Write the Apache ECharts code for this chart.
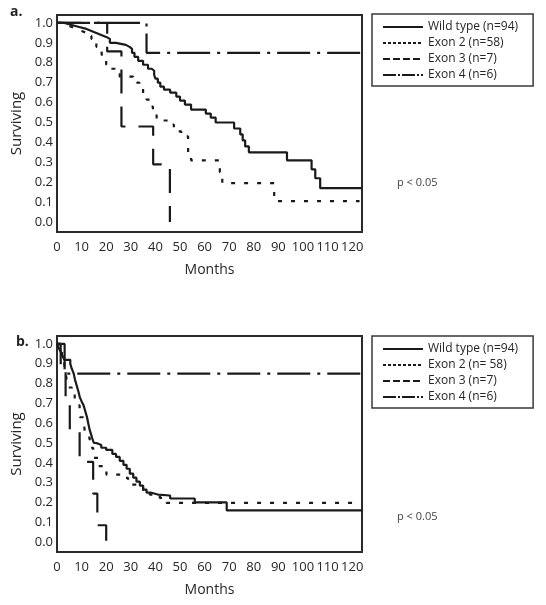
<!DOCTYPE html>
<html><head><meta charset="utf-8">
<script src="https://cdn.jsdelivr.net/npm/echarts@6/dist/echarts.min.js"></script>
<style>html,body{margin:0;padding:0;background:#fff}#c{width:546px;height:605px}</style>
</head><body><div id="c"></div>
<script>
// ---------- data (months, surviving fraction) ----------
const namesA = ['Wild type (n=94)', 'Exon 2 (n=58)', 'Exon 3 (n=7)', 'Exon 4 (n=6)'];
const namesB = ['Wild type (n=94)', 'Exon 2 (n= 58)', 'Exon 3 (n=7)', 'Exon 4 (n=6)'];
const panelLabels = ['a.', 'b.'];
const pText = 'p < 0.05';
const xTicks = [0, 10, 20, 30, 40, 50, 60, 70, 80, 90, 100, 110, 120];
const yTicks = [0.0, 0.1, 0.2, 0.3, 0.4, 0.5, 0.6, 0.7, 0.8, 0.9, 1.0];

const aWild = [[0,1.0],[3,0.99],[6,0.98],[9,0.97],[12,0.96],[14,0.95],[16,0.94],[18,0.93],[20,0.92],[21.5,0.90],[24,0.89],[28,0.88],[29.5,0.87],[30.5,0.85],[31.5,0.83],[33,0.81],[35,0.79],[37,0.77],[38.5,0.76],[39.5,0.74],[40,0.72],[41,0.70],[42,0.68],[43.5,0.665],[46,0.65],[48.5,0.63],[50,0.61],[52,0.59],[54.5,0.565],[60.5,0.545],[62.5,0.525],[64.5,0.50],[72,0.47],[74.5,0.44],[75.5,0.41],[76.5,0.38],[78,0.35],[93.5,0.31],[103.5,0.265],[105,0.22],[107,0.17],[124,0.17]];
const aExon2 = [[0,1.0],[2,0.99],[4,0.98],[6,0.97],[8,0.96],[10,0.95],[12,0.935],[14,0.92],[15,0.90],[16,0.88],[18,0.865],[18.5,0.81],[20,0.79],[22,0.77],[24,0.745],[25.5,0.73],[31,0.715],[32.5,0.70],[33.5,0.67],[35,0.63],[36.4,0.615],[37.7,0.58],[39,0.545],[40.5,0.51],[46,0.49],[47.5,0.47],[49,0.455],[50.5,0.43],[53.3,0.345],[54.5,0.31],[66.2,0.25],[67.2,0.196],[88.3,0.105],[123,0.105]];
const aExon3 = [[0,1.0],[20.4,0.857],[26.2,0.48],[39.1,0.29],[45.9,0.0]];
const aExon4 = [[0,1.0],[36.4,0.85],[124,0.85]];

const bWild = [[0,1.0],[0.7,0.98],[1.5,0.96],[2.2,0.94],[3,0.92],[5.4,0.90],[6,0.875],[6.8,0.85],[7.3,0.82],[8,0.79],[8.7,0.76],[9.3,0.73],[10,0.71],[10.8,0.69],[11.5,0.66],[12.2,0.63],[12.7,0.60],[13.2,0.57],[13.7,0.55],[14.3,0.525],[15,0.50],[16,0.49],[18,0.476],[20,0.465],[22.5,0.445],[24,0.43],[25.5,0.41],[27,0.39],[28.3,0.37],[29.6,0.345],[31,0.325],[32.3,0.305],[33.7,0.285],[35,0.265],[36.4,0.25],[38,0.24],[41,0.235],[46,0.22],[56,0.20],[69,0.16],[124,0.16]];
const bExon2 = [[0,1.0],[1,0.97],[2,0.93],[3,0.89],[3.8,0.83],[4.5,0.78],[6,0.76],[7.2,0.72],[7.9,0.69],[9.2,0.63],[10.6,0.62],[11.3,0.56],[12,0.527],[13.3,0.476],[14.7,0.425],[16.7,0.383],[18.7,0.358],[20.1,0.34],[26.9,0.324],[28.9,0.29],[35,0.257],[37.7,0.24],[41.8,0.223],[44.5,0.198],[123,0.198]];
const bExon3 = [[0,1.0],[1.5,0.86],[3.5,0.71],[5.2,0.555],[9.2,0.405],[14.7,0.245],[16.4,0.085],[20,0.0]];
const bExon4 = [[0,1.0],[3.1,0.85],[124,0.85]];

// ---------- styling ----------
const INK = '#1a1a1a';
const TXT = '#262626';
const FONT = '"Open Sans", "Noto Sans", sans-serif';
const plotDash = ['solid', [4, 9], [24, 13], [33, 7, 3, 7]];
const legendDash = ['solid', [3, 2], [7, 3], [13, 2, 2, 2]];
const grids = [
  { left: 57, top: 15, width: 305, height: 217 },
  { left: 57, top: 336, width: 305, height: 216 }
];
const legendTops = [14, 336];

function isTick(v, list) { return list.some(t => Math.abs(t - v) < 1e-6); }

const chart = echarts.init(document.getElementById('c'), null, { renderer: 'canvas' });

const xAxes = grids.map((g, i) => ({
  type: 'value', gridIndex: i, min: 0, max: 124, interval: 10,
  axisLine: { show: false }, axisTick: { show: false }, splitLine: { show: false },
  axisLabel: { color: TXT, fontFamily: FONT, fontSize: 13, margin: 9,
    formatter: v => isTick(v, xTicks) ? String(v) : '' },
  name: 'Months', nameLocation: 'middle', nameGap: 31,
  nameTextStyle: { color: TXT, fontFamily: FONT, fontSize: 14 }
}));
const yAxes = grids.map((g, i) => ({
  type: 'value', gridIndex: i, min: -0.05, max: 1.04, interval: 0.05,
  axisLine: { show: false }, axisTick: { show: false }, splitLine: { show: false },
  axisLabel: { color: TXT, fontFamily: FONT, fontSize: 13, margin: 4,
    formatter: v => isTick(v, yTicks) ? v.toFixed(1) : '' },
  name: 'Surviving', nameLocation: 'middle', nameGap: 27,
  nameTextStyle: { color: TXT, fontFamily: FONT, fontSize: 15 }
}));

const panelData = [[aWild, aExon2, aExon3, aExon4], [bWild, bExon2, bExon3, bExon4]];
const panelNames = [namesA, namesB];
const series = [];
panelData.forEach((sets, p) => {
  sets.forEach((d, k) => {
    series.push({
      type: 'line', name: panelNames[p][k], data: d, step: 'end',
      xAxisIndex: p, yAxisIndex: p, symbol: 'none', showSymbol: false,
      silent: true, clip: true,
      itemStyle: { color: INK },
      lineStyle: { color: INK, width: 2.2, type: plotDash[k], cap: 'butt' },
      z: 3 + (3 - k)
    });
  });
});

const legends = panelNames.map((names, p) => ({
  orient: 'vertical', left: 372, top: legendTops[p],
  padding: [7, 15, 5, 10], itemGap: 4, itemWidth: 40, itemHeight: 12,
  borderColor: '#3a3a3a', borderWidth: 1.5, backgroundColor: '#fff',
  textStyle: { color: TXT, fontFamily: FONT, fontSize: 12 },
  selectedMode: false,
  itemStyle: { color: 'rgba(0,0,0,0)', borderWidth: 0, opacity: 0 },
  data: names.map((n, k) => ({ name: n,
    lineStyle: { type: legendDash[k], width: 2, color: INK, opacity: 1 },
    itemStyle: { color: 'rgba(0,0,0,0)', borderWidth: 0, opacity: 0 } }))
}));

const graphics = [];
panelLabels.forEach((t, p) => {
  graphics.push({ type: 'text', left: p === 0 ? 10 : 16, top: p === 0 ? 5 : 335,
    style: { text: t, fill: '#222', font: 'bold 14px ' + FONT } });
});
[183, 517].forEach(y => {
  graphics.push({ type: 'text', x: 397, y: y,
    style: { text: pText, fill: '#444', font: '11px ' + FONT, textVerticalAlign: 'middle' } });
});

chart.setOption({
  animation: false,
  backgroundColor: '#fff',
  grid: grids.map(g => Object.assign({ show: true, borderColor: '#2a2a2a', borderWidth: 2, backgroundColor: 'transparent' }, g)),
  xAxis: xAxes,
  yAxis: yAxes,
  legend: legends,
  series: series,
  graphic: graphics
});
</script></body></html>
